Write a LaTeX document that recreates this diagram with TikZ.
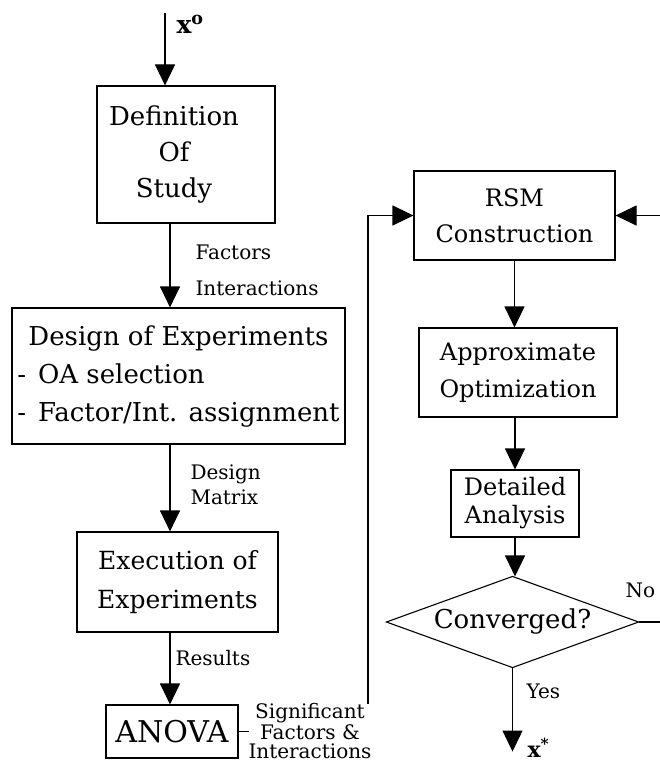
\documentclass[tikz,border=0pt]{standalone}
\usepackage{fontspec}
\setmainfont{DejaVu Serif}
\usetikzlibrary{arrows.meta,calc}
\begin{document}
\begin{tikzpicture}[x=1pt,y=-1pt,line width=1.1pt,
  box/.style={draw,rectangle,inner sep=0pt,align=center,font=\fontsize{24}{37}\selectfont},
  lbl/.style={inner sep=0pt,align=left,font=\fontsize{20}{24}\selectfont},
  arr/.style={-{Triangle[length=21pt,width=20pt]}}]
\clip (0,0) rectangle (660,765);
% left column
\node[box,minimum width=178,minimum height=137,font=\fontsize{26}{36}\selectfont] (def) at (186,154.5)
  {\begin{tabular}{@{}c@{}}Definition\\Of\\Study\end{tabular}\hspace*{24pt}};
\node[box,minimum width=333,minimum height=136,font=\fontsize{26}{38}\selectfont] (doe) at (178.5,376)
  {\begin{tabular}{@{}l@{}}\multicolumn{1}{@{}c@{}}{Design of Experiments}\\-\hspace{12pt}OA selection\\-\hspace{12pt}Factor/Int. assignment\end{tabular}};
\node[box,minimum width=201,minimum height=100,font=\fontsize{25}{39}\selectfont] (exe) at (177.5,582) {Execution of\\Experiments};
\node[box,minimum width=132,minimum height=53,font=\fontsize{30}{32}\selectfont] (anova) at (172,731.5) {ANOVA};
% right column
\node[box,minimum width=201,minimum height=89,font=\fontsize{24}{36}\selectfont] (rsm) at (514.5,215.5) {RSM\\Construction};
\node[box,minimum width=198,minimum height=89,font=\fontsize{24}{37}\selectfont] (apx) at (518,372.5) {Approximate\\Optimization};
\node[box,minimum width=128,minimum height=67,font=\fontsize{24}{28}\selectfont] (det) at (515,503.5) {Detailed\\Analysis};
\node[inner sep=0pt,minimum width=251,minimum height=90,font=\fontsize{26}{28}\selectfont] (dia) at (512.5,622) {Converged?};
\draw (dia.north) -- (dia.east) -- (dia.south) -- (dia.west) -- cycle;
% labels
\node[lbl,anchor=base west,font=\fontsize{25}{28}\selectfont\bfseries] (x0) at (176,34) {x\textsuperscript{o}};
\node[lbl,anchor=north west,font=\fontsize{20}{36}\selectfont] (l1) at (195,244) {Factors\\Interactions};
\node[lbl,anchor=north west,font=\fontsize{20}{25}\selectfont] (l2) at (190,464) {Design\\Matrix};
\node[lbl,anchor=base west] (l3) at (175,665) {Results};
\node[lbl,anchor=base west] (lno) at (625,597) {No};
\node[lbl,anchor=base west] (lyes) at (526,698) {Yes};
\node[lbl,anchor=base west,font=\fontsize{22}{24}\selectfont\bfseries] (xs) at (527,757) {x\textsuperscript{*}};
% coordinates
\coordinate (xin) at (165,13);
\coordinate (colx) at (170,0);
\coordinate (lp) at (368,735);
\coordinate (rin) at (662,0);
% connectors
\draw[arr] (xin) -- (xin |- def.north);
\draw[arr] (def.south -| colx) -- (doe.north -| colx);
\draw[arr] (doe.south -| colx) -- (exe.north -| colx);
\draw[arr] (exe.south -| colx) -- (anova.north -| colx);
\draw[arr] (anova.east) -- (anova.east -| lp) -- (lp |- rsm.west) -- (rsm.west);
\node[lbl,align=center,anchor=north,fill=white,font=\fontsize{20}{19}\selectfont] (l4) at (310,703) {Significant\\Factors \&\\Interactions};
\draw[arr] (rsm.east -| rin) -- (rsm.east);
\draw[arr] (rsm.south) -- (apx.north -| rsm.south);
\draw[arr] (apx.south -| det.north) -- (det.north);
\draw[arr] (det.south) -- (dia.north -| det.south);
\draw (dia.east) -- (dia.east -| rin);
\draw[arr] (dia.south) -- ($(dia.south)+(0,84)$);
\end{tikzpicture}
\end{document}
